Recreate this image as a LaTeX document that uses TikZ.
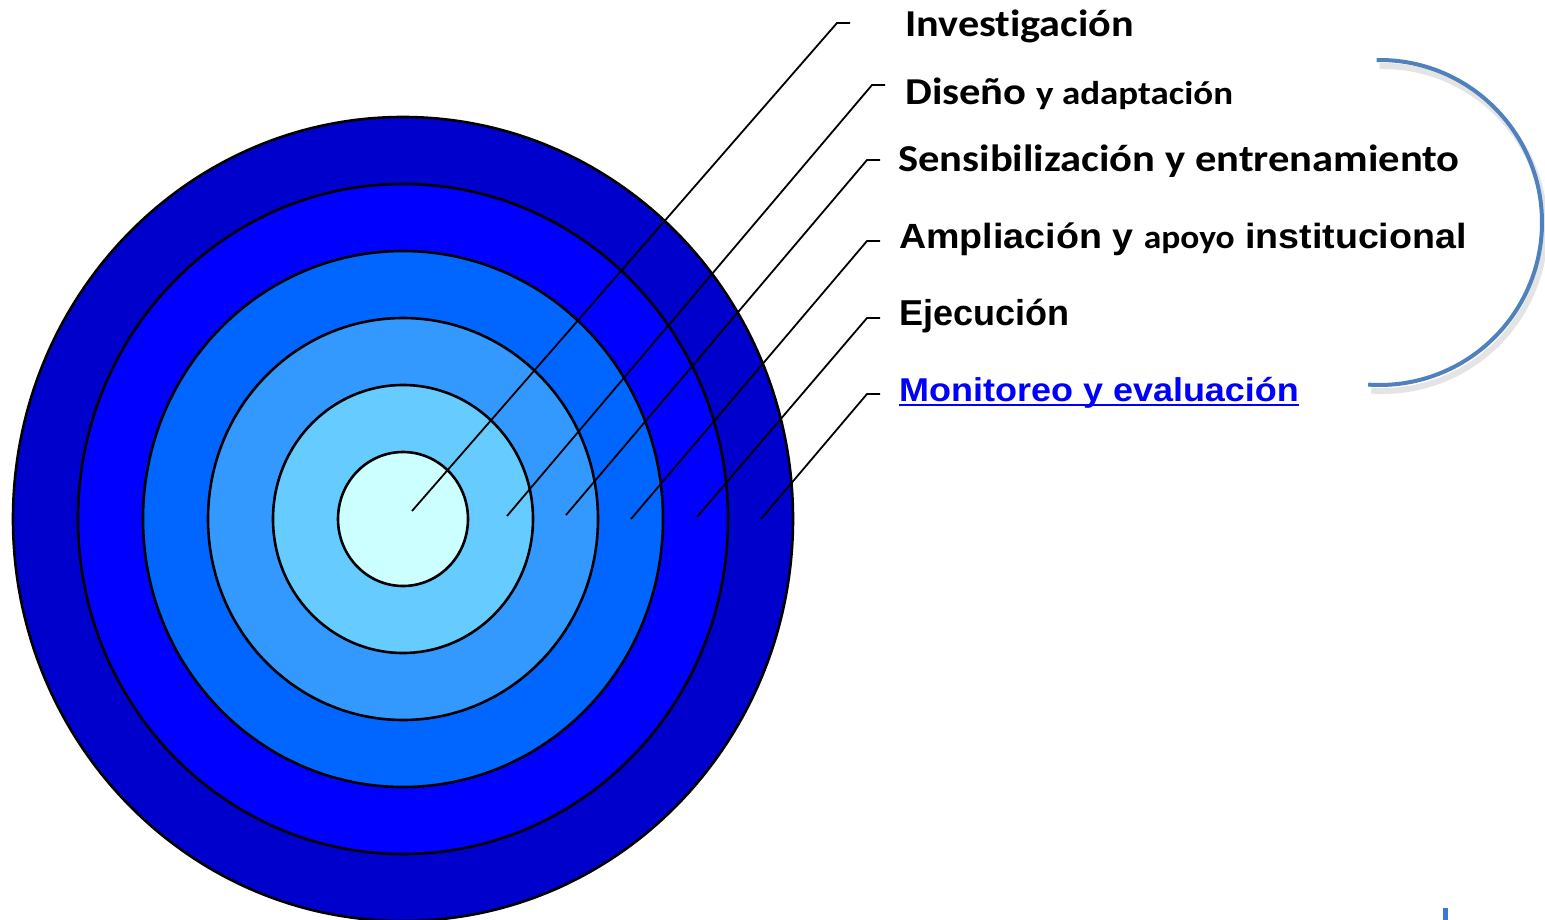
\documentclass[tikz,border=0pt]{standalone}
\usepackage{fontspec}
\usepackage{graphicx}
\newfontfamily\calf{Carlito}[Ligatures=NoCommon]
\newfontfamily\arif{Liberation Sans}[Ligatures=NoCommon]
\usetikzlibrary{shapes.geometric}
\definecolor{ringA}{HTML}{CCFFFF}
\definecolor{ringB}{HTML}{66CCFF}
\definecolor{ringC}{HTML}{3399FF}
\definecolor{ringD}{HTML}{0066FF}
\definecolor{ringE}{HTML}{0000FF}
\definecolor{ringF}{HTML}{0000CC}
\definecolor{arcblue}{HTML}{4F81BD}
\definecolor{linkblue}{HTML}{0000FF}
\definecolor{markblue}{HTML}{3C78D8}
\newcommand\xstretch[2]{\scalebox{#1}[1]{#2}}
\tikzset{
  ring/.style={draw=black, line width=2.6pt, ellipse, inner sep=0pt},
  leader/.style={draw=black, line width=1.8pt},
  lbl/.style={anchor=base west, inner sep=0pt, text=black},
}
\begin{document}
\begin{tikzpicture}[x=1pt,y=-1pt]
\useasboundingbox (0,0) rectangle (1545,920);
% rings
\node[ring, fill=ringF, minimum width=780pt, minimum height=804pt] (r6) at (403,519) {};
\node[ring, fill=ringE, minimum width=650pt, minimum height=670pt] (r5) at (403,519) {};
\node[ring, fill=ringD, minimum width=520pt, minimum height=536pt] (r4) at (403,519) {};
\node[ring, fill=ringC, minimum width=390pt, minimum height=402pt] (r3) at (403,519) {};
\node[ring, fill=ringB, minimum width=260pt, minimum height=268pt] (r2) at (403,519) {};
\node[ring, fill=ringA, minimum width=130pt, minimum height=134pt] (r1) at (403,519) {};
% labels
\node[lbl] (l1) at (905,37) {\xstretch{1.11}{\calf\bfseries\fontsize{38}{40}\selectfont Investigación}};
\node[lbl] (l2) at (905,105) {\xstretch{1.12}{\calf\bfseries\fontsize{38}{40}\selectfont Diseño {\fontsize{33}{35}\selectfont y adaptación}}};
\node[lbl] (l3) at (898,172) {\xstretch{1.12}{\calf\bfseries\fontsize{38}{40}\selectfont Sensibilización y entrenamiento}};
\node[lbl] (l4) at (899,248) {\xstretch{1.075}{\arif\bfseries\fontsize{35}{38}\selectfont Ampliación y {\calf\fontsize{33}{36}\selectfont apoyo} institucional}};
\node[lbl] (l5) at (899,325) {\arif\bfseries\fontsize{36}{38}\selectfont Ejecución};
\node[lbl, text=linkblue] (l6) at (899,401) {\xstretch{1.09}{\arif\bfseries\fontsize{33}{36}\selectfont Monitoreo y evaluación}};
\draw[linkblue, line width=2pt] ([yshift=-3.5pt]l6.base west) -- ([yshift=-3.5pt]l6.base east);
% leader coordinates
\coordinate (s1) at (412,511); \coordinate (k1) at (837,23); \coordinate (e1) at (850,23);
\coordinate (s2) at (507,516); \coordinate (k2) at (872,85); \coordinate (e2) at (885,85);
\coordinate (s3) at (566,515); \coordinate (k3) at (867,160); \coordinate (e3) at (880,160);
\coordinate (s4) at (631,519); \coordinate (k4) at (867,241); \coordinate (e4) at (880,241);
\coordinate (s5) at (697,517); \coordinate (k5) at (867,318); \coordinate (e5) at (880,318);
\coordinate (s6) at (761,519); \coordinate (k6) at (867,394); \coordinate (e6) at (880,394);
\foreach \i in {1,...,6}{\draw[leader] (s\i) -- (k\i) -- (e\i);}
% bracket arc
\draw[black!30, opacity=0.35, line width=6pt] (1379.5+3,222.5+6) ++(-91:162.5) arc[start angle=-91, end angle=94, radius=162.5];
\draw[arcblue, line width=4pt] (1379.5,222.5) ++(-91:162.5) arc[start angle=-91, end angle=94, radius=162.5];
% small mark
\fill[markblue] (1443,908) rectangle (1448,920);
\end{tikzpicture}
\end{document}
